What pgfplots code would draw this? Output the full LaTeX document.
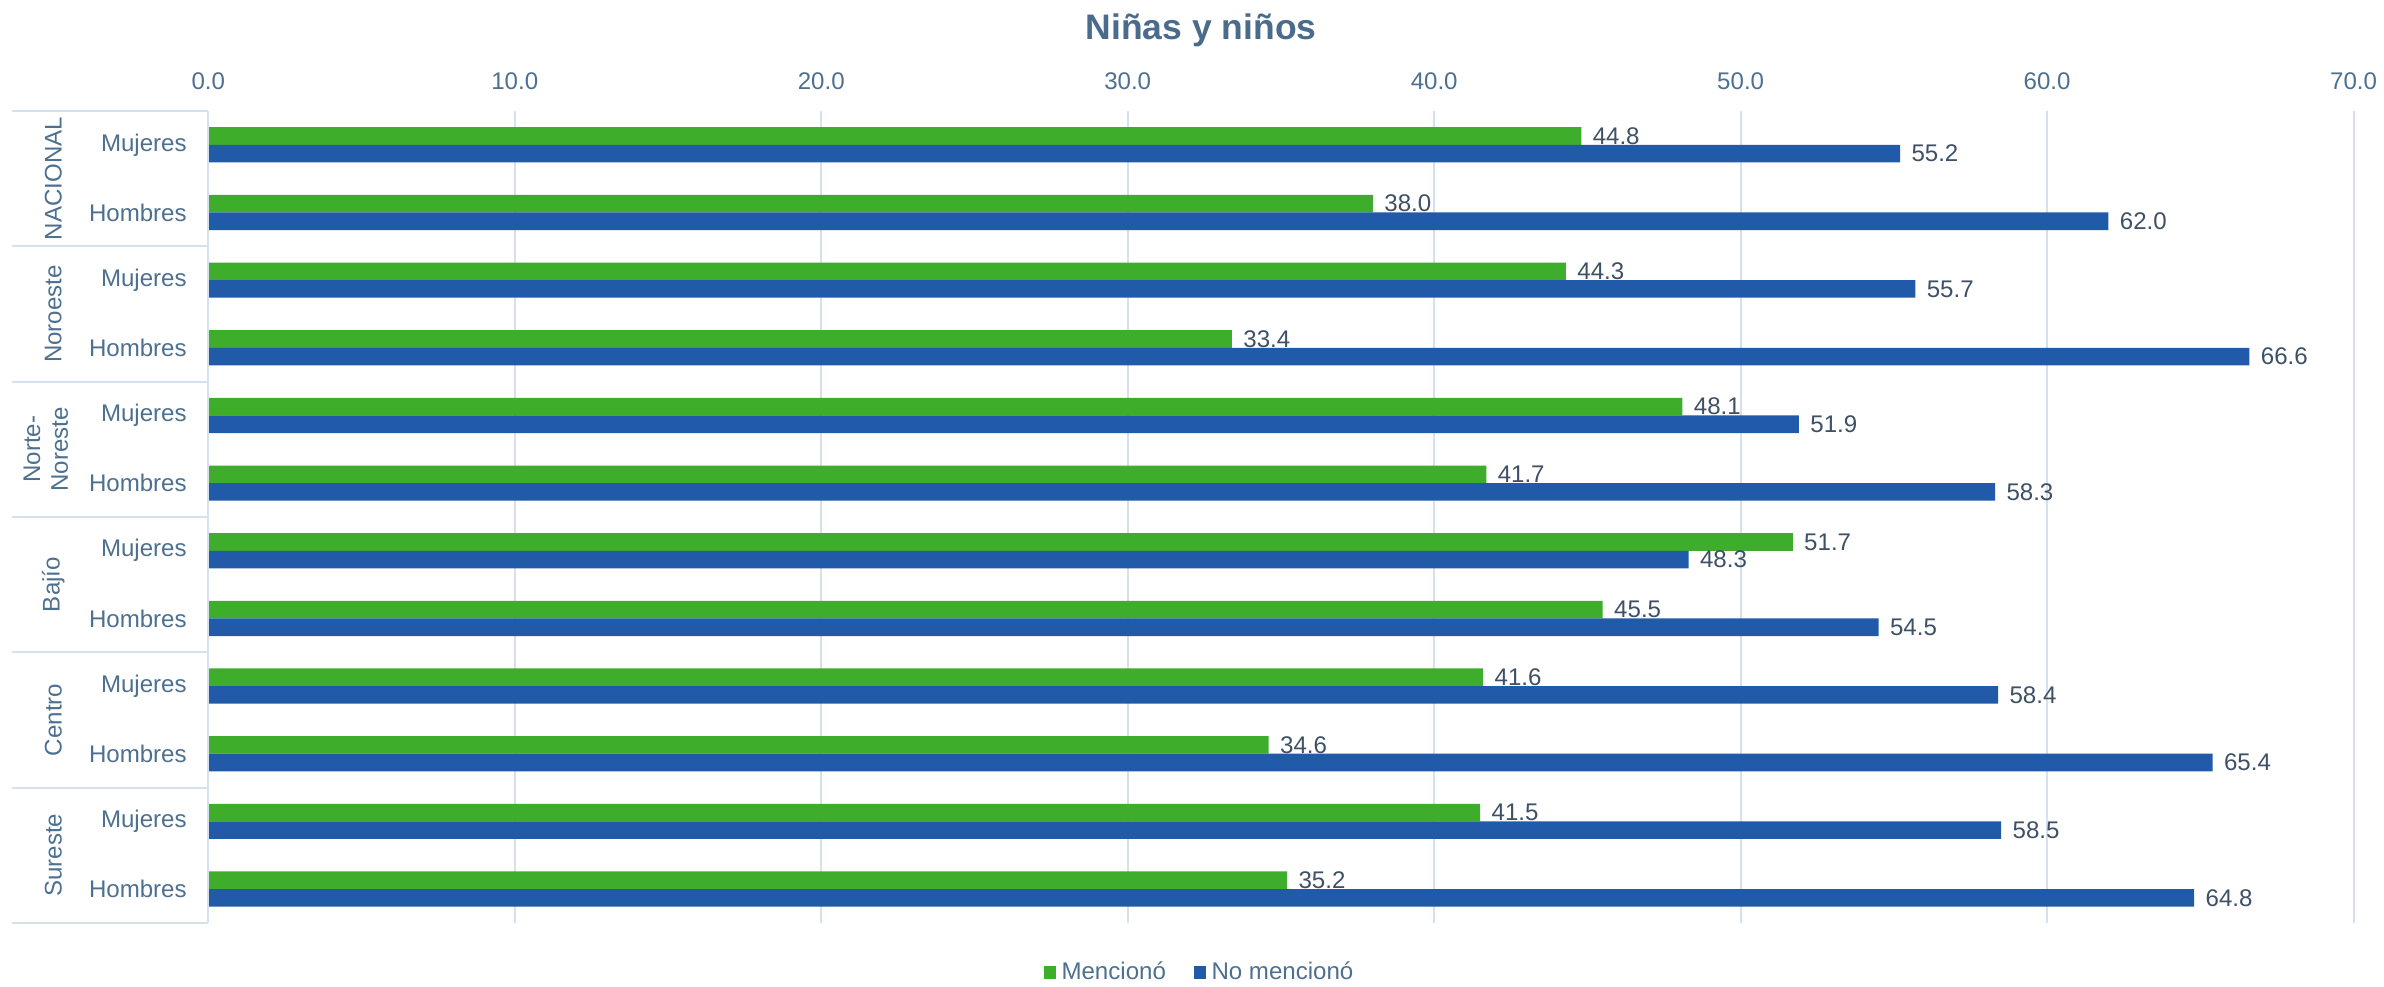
\documentclass[border=0pt]{standalone}
\usepackage{pgfplots}
\pgfplotsset{compat=1.18}
\usepackage{pgfplotstable}
\usepackage{fontspec}
\setmainfont{Liberation Sans}

\definecolor{verde}{HTML}{3DAD2B}
\definecolor{azul}{HTML}{215AA8}
\definecolor{ticktxt}{HTML}{4D7090}
\definecolor{valtxt}{HTML}{3E5066}
\definecolor{titulo}{HTML}{4A6C8C}
\definecolor{rejilla}{HTML}{D5E1EC}

% y: 11 = NACIONAL Mujeres (arriba) ... 0 = Sureste Hombres (abajo)
\pgfplotstableread{
y  menc nomenc
11 44.8 55.2
10 38.0 62.0
9  44.3 55.7
8  33.4 66.6
7  48.1 51.9
6  41.7 58.3
5  51.7 48.3
4  45.5 54.5
3  41.6 58.4
2  34.6 65.4
1  41.5 58.5
0  35.2 64.8
}\datos

\begin{document}
\begin{tikzpicture}
\useasboundingbox (-82.2pt,-25pt) rectangle (858.6pt,364.2pt);
\begin{axis}[
    at={(0,0)}, anchor=south west,
    scale only axis, width=846.6pt, height=320.4pt,
    xbar, bar width=0.26,
    xmin=0, xmax=70, ymin=-0.5, ymax=11.5,
    xtick={0,10,...,70}, xticklabel pos=upper,
    ytick={0,...,11},
    yticklabels={Hombres,Mujeres,Hombres,Mujeres,Hombres,Mujeres,Hombres,Mujeres,Hombres,Mujeres,Hombres,Mujeres},
    axis line style={draw=none}, major tick length=0pt,
    xmajorgrids, grid style={rejilla, line width=0.8pt},
    tick label style={font=\fontsize{9.5}{11}\selectfont, text=ticktxt},
    xticklabel style={yshift=5pt},
    yticklabel style={xshift=-5pt},
    /pgf/number format/fixed, /pgf/number format/fixed zerofill,
    /pgf/number format/precision=1, /pgf/number format/assume math mode=true,
    clip=false,
    nodes near coords,
    nodes near coords style={font=\fontsize{9.5}{11}\selectfont, text=valtxt, anchor=west, xshift=1pt},
    title={Niñas y niños},
    title style={font=\fontsize{14}{16}\selectfont\bfseries, text=titulo, at={(0.4628,1)}, anchor=center, yshift=26pt},
    legend style={at={(0.4628,0)}, anchor=center, yshift=-19.6pt, draw=none, fill=none,
        font=\fontsize{9.5}{11}\selectfont, text=ticktxt, legend columns=2,
        /tikz/every even column/.append style={column sep=9pt}},
    legend image code/.code={\fill[#1] (0pt,-2.5pt) rectangle (5pt,2.5pt);},
]
\addplot[fill=verde, draw=none, bar shift=0.13] table[x=menc, y=y]{\datos};
\addlegendentry{Mencionó}
\addplot[fill=azul, draw=none, bar shift=-0.13] table[x=nomenc, y=y]{\datos};
\addlegendentry{No mencionó}

% tabla de regiones a la izquierda
\draw[rejilla, line width=0.8pt] (axis cs:0,-0.5) -- (axis cs:0,11.5);
\pgfplotsinvokeforeach{11.5,9.5,7.5,5.5,3.5,1.5,-0.5}{
  \draw[rejilla, line width=0.8pt] (axis cs:-6.4,#1) -- (axis cs:0,#1);
}
\node[rotate=90, text=ticktxt, font=\fontsize{9.5}{11}\selectfont] at (axis cs:-5.06,10.5) {NACIONAL};
\node[rotate=90, text=ticktxt, font=\fontsize{9.5}{11}\selectfont] at (axis cs:-5.06,8.5) {Noroeste};
\node[rotate=90, text=ticktxt, font=\fontsize{9.5}{11}\selectfont, align=center] at (axis cs:-5.3,6.5) {Norte-\\Noreste};
\node[rotate=90, text=ticktxt, font=\fontsize{9.5}{11}\selectfont] at (axis cs:-5.06,4.5) {Bajío};
\node[rotate=90, text=ticktxt, font=\fontsize{9.5}{11}\selectfont] at (axis cs:-5.06,2.5) {Centro};
\node[rotate=90, text=ticktxt, font=\fontsize{9.5}{11}\selectfont] at (axis cs:-5.06,0.5) {Sureste};
\end{axis}
\end{tikzpicture}
\end{document}
